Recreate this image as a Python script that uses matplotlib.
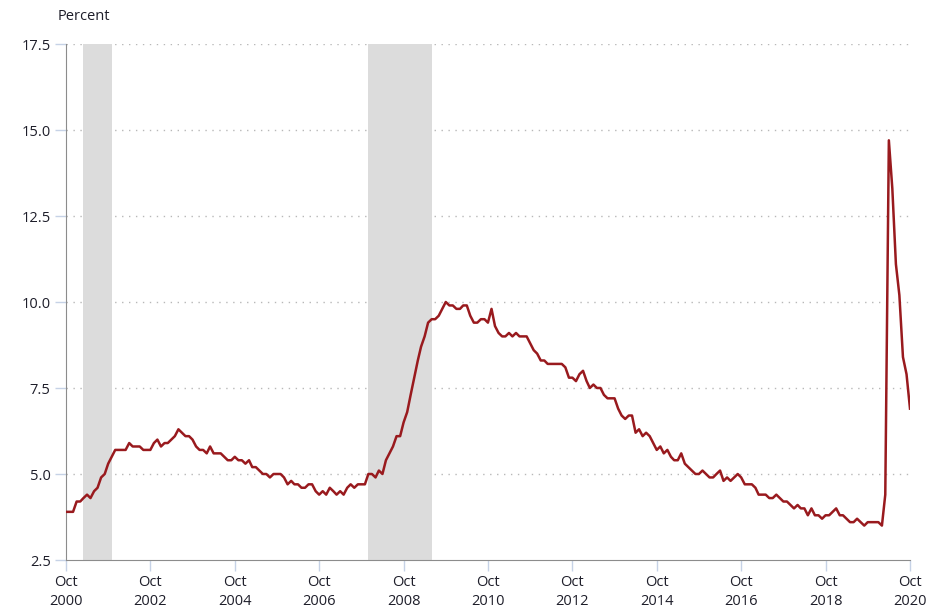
import numpy as np
import pandas as pd
import matplotlib
matplotlib.use('Agg')
import matplotlib.pyplot as plt
import matplotlib.dates as mdates

# monthly unemployment rate, Oct 2000 - Oct 2020
rate = [
    3.9, 3.9, 3.9,
    4.2, 4.2, 4.3, 4.4, 4.3, 4.5, 4.6, 4.9, 5.0, 5.3, 5.5, 5.7,
    5.7, 5.7, 5.7, 5.9, 5.8, 5.8, 5.8, 5.7, 5.7, 5.7, 5.9, 6.0,
    5.8, 5.9, 5.9, 6.0, 6.1, 6.3, 6.2, 6.1, 6.1, 6.0, 5.8, 5.7,
    5.7, 5.6, 5.8, 5.6, 5.6, 5.6, 5.5, 5.4, 5.4, 5.5, 5.4, 5.4,
    5.3, 5.4, 5.2, 5.2, 5.1, 5.0, 5.0, 4.9, 5.0, 5.0, 5.0, 4.9,
    4.7, 4.8, 4.7, 4.7, 4.6, 4.6, 4.7, 4.7, 4.5, 4.4, 4.5, 4.4,
    4.6, 4.5, 4.4, 4.5, 4.4, 4.6, 4.7, 4.6, 4.7, 4.7, 4.7, 5.0,
    5.0, 4.9, 5.1, 5.0, 5.4, 5.6, 5.8, 6.1, 6.1, 6.5, 6.8, 7.3,
    7.8, 8.3, 8.7, 9.0, 9.4, 9.5, 9.5, 9.6, 9.8, 10.0, 9.9, 9.9,
    9.8, 9.8, 9.9, 9.9, 9.6, 9.4, 9.4, 9.5, 9.5, 9.4, 9.8, 9.3,
    9.1, 9.0, 9.0, 9.1, 9.0, 9.1, 9.0, 9.0, 9.0, 8.8, 8.6, 8.5,
    8.3, 8.3, 8.2, 8.2, 8.2, 8.2, 8.2, 8.1, 7.8, 7.8, 7.7, 7.9,
    8.0, 7.7, 7.5, 7.6, 7.5, 7.5, 7.3, 7.2, 7.2, 7.2, 6.9, 6.7,
    6.6, 6.7, 6.7, 6.2, 6.3, 6.1, 6.2, 6.1, 5.9, 5.7, 5.8, 5.6,
    5.7, 5.5, 5.4, 5.4, 5.6, 5.3, 5.2, 5.1, 5.0, 5.0, 5.1, 5.0,
    4.9, 4.9, 5.0, 5.1, 4.8, 4.9, 4.8, 4.9, 5.0, 4.9, 4.7, 4.7,
    4.7, 4.6, 4.4, 4.4, 4.4, 4.3, 4.3, 4.4, 4.3, 4.2, 4.2, 4.1,
    4.0, 4.1, 4.0, 4.0, 3.8, 4.0, 3.8, 3.8, 3.7, 3.8, 3.8, 3.9,
    4.0, 3.8, 3.8, 3.7, 3.6, 3.6, 3.7, 3.6, 3.5, 3.6, 3.6, 3.6,
    3.6, 3.5, 4.4, 14.7, 13.3, 11.1, 10.2, 8.4, 7.9, 6.9,
]
dates = pd.date_range('2000-10-01', periods=len(rate), freq='MS')

recessions = [('2001-03-01', '2001-11-01'), ('2007-12-01', '2009-06-01')]
yticks = [2.5, 5.0, 7.5, 10.0, 12.5, 15.0, 17.5]
xtick_years = list(range(2000, 2021, 2))

plt.rcParams['font.family'] = ['Open Sans', 'DejaVu Sans']

fig = plt.figure(figsize=(9.29, 6.10), dpi=100)
ax = fig.add_axes([66/929, 1 - 560/610, (910 - 66)/929, (560 - 44)/610])

for start, end in recessions:
    ax.axvspan(pd.Timestamp(start), pd.Timestamp(end), color='#dcdcdc', lw=0, zorder=1)

ax.plot(dates, rate, color='#991a1e', lw=1.8, zorder=3)

ax.set_xlim(dates[0], dates[-1])
ax.set_ylim(2.5, 17.5)

ax.set_yticks(yticks)
ax.set_yticklabels([f'{v:.1f}' for v in yticks])
tick_dates = [pd.Timestamp(f'{y}-10-01') for y in xtick_years]
ax.set_xticks(tick_dates)
ax.set_xticklabels([f'Oct\n{y}' for y in xtick_years], linespacing=1.35)

for v in yticks[1:]:
    ax.axhline(v, color='#b8b8b8', lw=1, ls=(0, (1, 4)), zorder=0)

for side in ['top', 'right']:
    ax.spines[side].set_visible(False)
ax.spines['left'].set_color('#8c8c8c')
ax.spines['bottom'].set_color('#8c8c8c')
ax.tick_params(axis='both', length=8, width=1, color='#c6d2e6',
               labelsize=10.5, labelcolor='#1e1e2a')
ax.tick_params(axis='y', pad=3)
ax.tick_params(axis='x', pad=3)

fig.text(58/929, 1 - 17/610, 'Percent', fontsize=10.5, color='#1e1e2a',
         ha='left', va='center')

fig.savefig('out.png', dpi=100)
